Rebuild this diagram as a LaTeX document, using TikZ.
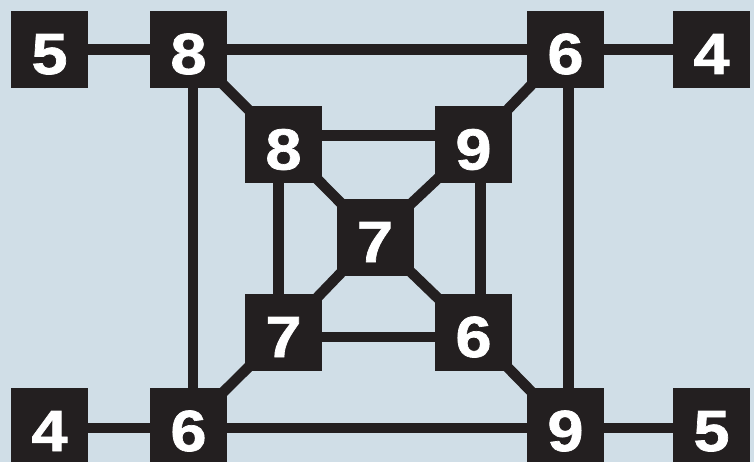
\documentclass[tikz,border=0pt]{standalone}
\usepackage{fontspec}
\newfontfamily\digitfont{Liberation Sans}[FakeStretch=1.12, BoldFeatures={FakeBold=1.2}]
\definecolor{paperblue}{RGB}{208, 222, 231}
\definecolor{boxdark}{RGB}{35, 31, 32}
\usetikzlibrary{positioning, backgrounds}
\pgfdeclarelayer{paper}
\pgfsetlayers{paper,background,main}

\begin{document}
\begin{tikzpicture}[
        x=1pt, y=-1pt,
        box/.style={rectangle, fill=boxdark, minimum size=77pt, inner sep=0pt, outer sep=0pt, text=white, text height=49pt, text depth=0pt, font=\digitfont\bfseries\fontsize{58}{58}\selectfont},
        link/.style={draw=boxdark, line width=10.5pt}
    ]
        \useasboundingbox (0,0) rectangle (754,462);

        \node[box] (c7) at (375,237.5) {7};
        \node[box] (i8) at (283.5,145) {8};
        \node[box, right=113pt of i8] (i9) {9};
        \node[box, below=110.5pt of i8] (i7) {7};
        \node[box, below=110.5pt of i9] (i6) {6};

        \node[box] (t8) at (188.5,49.5) {8};
        \node[box, left=62pt of t8] (t5) {5};
        \node[box, right=300pt of t8] (t6) {6};
        \node[box, right=69pt of t6] (t4) {4};

        \node[box, below=300pt of t8] (b6) {6};
        \node[box, left=62pt of b6] (b4) {4};
        \node[box, right=300pt of b6] (b9) {9};
        \node[box, right=69pt of b9] (b5) {5};

        \begin{pgfonlayer}{paper}
            \fill[paperblue] (0,0) rectangle (754,462);
        \end{pgfonlayer}

        \begin{scope}[on background layer]
            \draw[link] (t5) -- (t8);
            \draw[link] (t8) -- (t6);
            \draw[link] (t6) -- (t4);
            \draw[link] ([yshift=-1.3pt]b4.east) -- ([yshift=-1.3pt]b6.west);
            \draw[link] ([yshift=-1.3pt]b6.east) -- ([yshift=-1.3pt]b9.west);
            \draw[link] ([yshift=-1.3pt]b9.east) -- ([yshift=-1.3pt]b5.west);

            \draw[link] ([xshift=4.5pt]t8.south) -- ([xshift=4.5pt]b6.north);
            \draw[link] ([xshift=2.8pt]t6.south) -- ([xshift=2.8pt]b9.north);

            \draw[link] ([yshift=9.5pt]i8.east) -- ([yshift=9.5pt]i9.west);
            \draw[link] ([yshift=-4.5pt]i7.east) -- ([yshift=-4.5pt]i6.west);
            \draw[link] ([xshift=-5.2pt]i8.south) -- ([xshift=-5.2pt]i7.north);
            \draw[link] ([xshift=6.8pt]i9.south) -- ([xshift=6.8pt]i6.north);

            \draw[link] (t8.center) -- (i8.center);
            \draw[link] (t6.center) -- (i9.center);
            \draw[link] (b6.center) -- (i7.center);
            \draw[link] (b9.center) -- (i6.center);
            \draw[link] (c7.center) -- (i8.center);
            \draw[link] (c7.center) -- (i9.center);
            \draw[link] (c7.center) -- (i7.center);
            \draw[link] (c7.center) -- (i6.center);
        \end{scope}
    \end{tikzpicture}
\end{document}
